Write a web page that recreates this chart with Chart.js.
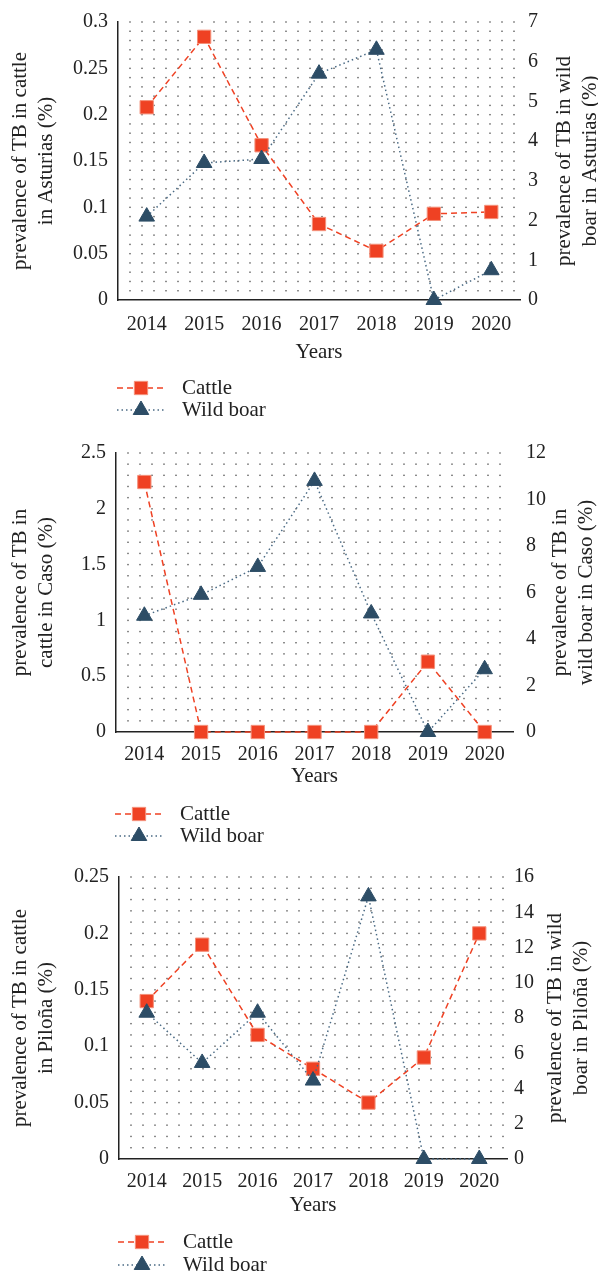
<!DOCTYPE html>
<html>
<head>
<meta charset="utf-8">
<script src="https://cdn.jsdelivr.net/npm/chart.js@4.4.0/dist/chart.umd.min.js"></script>
<style>
  html, body { margin: 0; padding: 0; background: #fff; }
  .panel { position: absolute; left: 0; width: 598px; height: 425px; }
</style>
</head>
<body>
<div class="panel" style="top:0"><canvas id="c1"></canvas></div>
<div class="panel" style="top:425px"><canvas id="c2"></canvas></div>
<div class="panel" style="top:850px"><canvas id="c3"></canvas></div>
<script>
// data
const years = ['2014', '2015', '2016', '2017', '2018', '2019', '2020'];

const asturiasCattle = [0.208, 0.284, 0.167, 0.082, 0.053, 0.093, 0.095];
const asturiasBoar = [2.1, 3.45, 3.55, 5.7, 6.3, 0, 0.75];
const asturiasCattleTicks = [0, 0.05, 0.1, 0.15, 0.2, 0.25, 0.3];
const asturiasBoarTicks = [0, 1, 2, 3, 4, 5, 6, 7];

const casoCattle = [2.24, 0, 0, 0, 0, 0.63, 0];
const casoBoar = [5.0, 5.9, 7.1, 10.8, 5.1, 0, 2.7];
const casoCattleTicks = [0, 0.5, 1, 1.5, 2, 2.5];
const casoBoarTicks = [0, 2, 4, 6, 8, 10, 12];

const pilonaCattle = [0.14, 0.19, 0.11, 0.08, 0.05, 0.09, 0.2];
const pilonaBoar = [8.3, 5.45, 8.3, 4.45, 14.9, 0, 0];
const pilonaCattleTicks = [0, 0.05, 0.1, 0.15, 0.2, 0.25];
const pilonaBoarTicks = [0, 2, 4, 6, 8, 10, 12, 14, 16];

const CATTLE = '#EF4123';
const BOAR = '#2D4D66';
const FONT = 'Liberation Serif, Times New Roman, serif';
const W = 598, H = 425;

// dotted background pattern (Excel style minor grid)
const dotGrid = {
  id: 'dotGrid',
  beforeDatasetsDraw(chart, args, opts) {
    const { ctx, chartArea: a } = chart;
    const ys = chart.scales.y;
    ctx.save();
    ctx.fillStyle = '#5a5a5a';
    const n = Math.round(ys.max / opts.minor);
    for (let i = 1; i <= n; i++) {
      const y = ys.getPixelForValue(i * opts.minor);
      for (let x = a.left + 12; x < a.right - 1; x += 12) {
        ctx.fillRect(x - 0.7, y - 0.7, 1.4, 1.4);
      }
    }
    ctx.restore();
  }
};

// right axis title reads bottom-to-top like the left one
const rightTitle = {
  id: 'rightTitle',
  afterDraw(chart, args, opts) {
    const { ctx, chartArea: a } = chart;
    const mid = (a.top + a.bottom) / 2;
    ctx.save();
    ctx.fillStyle = '#222';
    ctx.font = '21px ' + FONT;
    ctx.textAlign = 'center';
    ctx.textBaseline = 'middle';
    opts.lines.forEach((t, i) => {
      ctx.save();
      ctx.translate(opts.x[i], mid);
      ctx.rotate(-Math.PI / 2);
      ctx.fillText(t, 0, 0);
      ctx.restore();
    });
    ctx.restore();
  }
};

// legend below the plot: line sample with marker, then label
const lineLegend = {
  id: 'lineLegend',
  afterDraw(chart, args, opts) {
    const { ctx, chartArea: a } = chart;
    chart.data.datasets.forEach((ds, i) => {
      const y = a.bottom + opts.y[i];
      const x0 = a.left - 1, x1 = a.left + 47, xm = a.left + 23;
      ctx.save();
      ctx.strokeStyle = ds.borderColor;
      ctx.lineWidth = ds.borderWidth;
      ctx.setLineDash(ds.borderDash);
      ctx.beginPath();
      ctx.moveTo(x0, y);
      ctx.lineTo(x1, y);
      ctx.stroke();
      ctx.setLineDash([]);
      ctx.fillStyle = ds.pointBackgroundColor;
      ctx.strokeStyle = ds.pointBorderColor;
      ctx.lineWidth = 1;
      Chart.helpers.drawPoint(ctx, { pointStyle: ds.pointStyle, radius: ds.pointRadius, borderWidth: 1, rotation: 0 }, xm, y);
      ctx.fillStyle = '#222';
      ctx.font = '21px ' + FONT;
      ctx.textAlign = 'left';
      ctx.textBaseline = 'middle';
      ctx.fillText(ds.label, a.left + 64, y);
      ctx.restore();
    });
  }
};

function fmt(v) {
  return String(Math.round(v * 1000) / 1000);
}

function makeChart(id, cfg) {
  const xh = cfg.xTitleOff + 15;
  const tickFont = { family: FONT, size: 20 };
  new Chart(document.getElementById(id), {
    type: 'line',
    data: {
      labels: years,
      datasets: [
        {
          label: 'Cattle',
          data: cfg.cattle,
          yAxisID: 'y',
          order: 2,
          borderColor: CATTLE,
          borderWidth: 1.5,
          borderDash: [6, 4],
          pointStyle: 'rect',
          pointRadius: 9.4,
          pointHoverRadius: 9.4,
          pointBackgroundColor: CATTLE,
          pointBorderColor: '#F4907A',
          pointBorderWidth: 1,
          tension: 0,
          clip: false
        },
        {
          label: 'Wild boar',
          data: cfg.boar,
          yAxisID: 'y1',
          order: 1,
          borderColor: '#4A6A84',
          borderWidth: 1.5,
          borderDash: [1.5, 3],
          pointStyle: 'triangle',
          pointRadius: 9,
          pointHoverRadius: 9,
          pointBackgroundColor: BOAR,
          pointBorderColor: BOAR,
          pointBorderWidth: 1,
          tension: 0,
          clip: false
        }
      ]
    },
    options: {
      responsive: true,
      maintainAspectRatio: false,
      animation: false,
      events: [],
      layout: {
        padding: { top: cfg.area.top, left: 0, right: 0, bottom: H - cfg.area.bottom - xh }
      },
      plugins: {
        legend: { display: false },
        tooltip: { enabled: false },
        dotGrid: { minor: cfg.minor },
        rightTitle: { lines: cfg.rightTitle, x: cfg.rightTitleX },
        lineLegend: { y: cfg.legendY }
      },
      scales: {
        x: {
          offset: true,
          grid: { display: false, drawTicks: false },
          border: { display: true, color: '#222', width: 1.5 },
          ticks: { font: tickFont, color: '#222', padding: cfg.xTickPad, maxRotation: 0 },
          title: { display: true, text: 'Years', font: { family: FONT, size: 21, lineHeight: 1.24 }, color: '#222', padding: { top: 0, bottom: 2 } },
          afterFit: s => { s.height = xh; }
        },
        y: {
          position: 'left',
          min: cfg.leftTicks[0],
          max: cfg.leftTicks[cfg.leftTicks.length - 1],
          grid: { display: false, drawTicks: false },
          border: { display: true, color: '#222', width: 1.5 },
          ticks: { font: tickFont, color: '#222', padding: 10, callback: v => fmt(v) },
          afterBuildTicks: s => { s.ticks = cfg.leftTicks.map(v => ({ value: v })); },
          title: { display: true, text: cfg.leftTitle, font: { family: FONT, size: 21, lineHeight: 1.24 }, color: '#222', padding: { top: 7, bottom: 0 } },
          afterFit: s => { s.width = cfg.area.left; }
        },
        y1: {
          position: 'right',
          min: cfg.rightTicks[0],
          max: cfg.rightTicks[cfg.rightTicks.length - 1],
          grid: { display: false, drawTicks: false },
          border: { display: false },
          ticks: { font: tickFont, color: '#222', padding: cfg.rightPad, callback: v => fmt(v) },
          afterBuildTicks: s => { s.ticks = cfg.rightTicks.map(v => ({ value: v })); },
          afterFit: s => { s.width = W - cfg.area.right; }
        }
      }
    },
    plugins: [dotGrid, rightTitle, lineLegend]
  });
}

makeChart('c1', {
  cattle: asturiasCattle, boar: asturiasBoar,
  leftTicks: asturiasCattleTicks, rightTicks: asturiasBoarTicks, minor: 0.01,
  leftTitle: ['prevalence of TB in cattle', 'in Asturias (%)'],
  rightTitle: ['prevalence of TB in wild', 'boar in Asturias (%)'],
  rightTitleX: [564, 590],
  area: { top: 17, bottom: 300, left: 118, right: 520 },
  xTickPad: 13, xTitleOff: 53, rightPad: 8, legendY: [88, 110]
});

makeChart('c2', {
  cattle: casoCattle, boar: casoBoar,
  leftTicks: casoCattleTicks, rightTicks: casoBoarTicks, minor: 0.1,
  leftTitle: ['prevalence of TB in', 'cattle in Caso (%)'],
  rightTitle: ['prevalence of TB in', 'wild boar in Caso (%)'],
  rightTitleX: [560, 586],
  area: { top: 28, bottom: 307, left: 116, right: 513 },
  xTickPad: 11, xTitleOff: 45, rightPad: 13, legendY: [82, 104]
});

makeChart('c3', {
  cattle: pilonaCattle, boar: pilonaBoar,
  leftTicks: pilonaCattleTicks, rightTicks: pilonaBoarTicks, minor: 0.01,
  leftTitle: ['prevalence of TB in cattle', 'in Piloña (%)'],
  rightTitle: ['prevalence of TB in wild', 'boar in Piloña (%)'],
  rightTitleX: [555, 581],
  area: { top: 27, bottom: 309, left: 119, right: 507 },
  xTickPad: 11, xTitleOff: 47, rightPad: 7, legendY: [83, 106]
});
</script>
</body>
</html>
